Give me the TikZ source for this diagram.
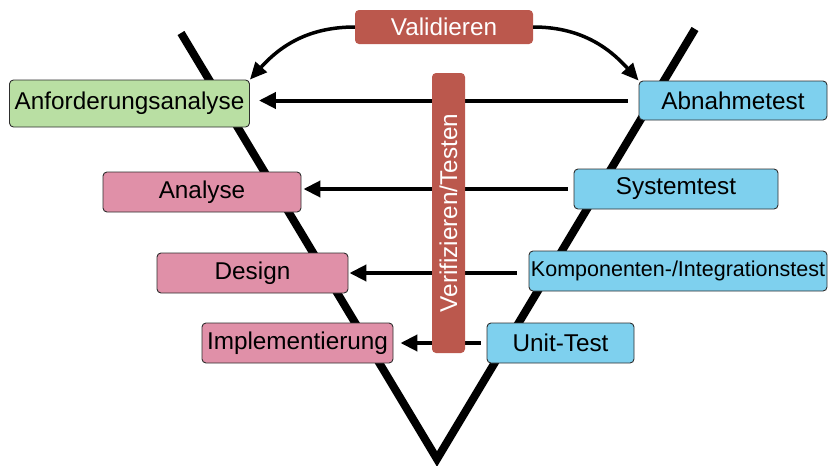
\documentclass[tikz,border=0pt]{standalone}
\usepackage{fontspec}
\setmainfont{Liberation Sans}
\usetikzlibrary{arrows.meta}

\definecolor{phasered}{HTML}{BB584D}
\definecolor{reqgreen}{HTML}{B9DFA3}
\definecolor{devpink}{HTML}{E090A8}
\definecolor{testblue}{HTML}{7ED0EE}
\definecolor{boxline}{HTML}{2E2E2E}

\tikzset{
  box/.style={rectangle, rounded corners=4pt, draw=boxline, line width=0.9pt,
    inner sep=0pt, font=\fontsize{24.3}{28}\selectfont, text=black},
  tag/.style={rectangle, rounded corners=4pt, fill=phasered, inner sep=0pt,
    font=\fontsize{24.3}{28}\selectfont, text=white},
  vline/.style={line width=8pt, line join=miter, black},
  arr/.style={line width=4pt, -{Triangle[length=17pt,width=16pt]}},
  carr/.style={line width=3.5pt, -{Triangle[length=17pt,width=15pt]}},
}

\begin{document}
\begin{tikzpicture}[x=1pt,y=-1pt]
  \useasboundingbox (0,0) rectangle (828,466);

  % the V of the model
  \draw[vline] (181,33) -- (437,459) -- (695,29);

  % development phases (left branch)
  \node[box, fill=reqgreen, minimum width=240pt, minimum height=47pt] (anf) at (129.5,103.5) {Anforderungsanalyse};
  \node[box, fill=devpink, minimum width=198pt, minimum height=40pt] (ana) at (202,192) {Analyse};
  \node[box, fill=devpink, minimum width=191pt, minimum height=40pt] (des) at (252.5,273) {Design};
  \node[box, fill=devpink, minimum width=191pt, minimum height=40pt] (imp) at (297.5,343) {Implementierung};

  % test phases (right branch)
  \node[box, fill=testblue, minimum width=188pt, minimum height=39pt] (abn) at (733,100.5) {Abnahmetest};
  \node[box, fill=testblue, minimum width=204pt, minimum height=40pt] (sys) at (676,189) {Systemtest};
  \node[box, fill=testblue, minimum width=298pt, minimum height=40pt, font=\fontsize{21.5}{25}\selectfont] (kom) at (678,271) {Komponenten-/Integrationstest};
  \node[box, fill=testblue, minimum width=147pt, minimum height=40pt] (uni) at (560.5,343) {Unit-Test};

  % verification arrows from each test level to its phase
  \draw[arr, shorten <=11pt, shorten >=9pt] (abn.west) -- (abn.west -| anf.east);
  \draw[arr, shorten <=6pt, shorten >=2pt] (sys.west) -- (sys.west -| ana.east);
  \draw[arr, shorten <=12pt, shorten >=1pt] (des.east -| kom.west) -- (des.east);
  \draw[arr, shorten <=6pt, shorten >=7pt] (uni.west) -- (imp.east);

  % labels
  \node[tag, minimum width=178pt, minimum height=34pt] (val) at (444,27) {Validieren};
  \node[tag, rotate=90, minimum width=280pt, minimum height=33pt] (ver) at (448.5,213) {Verifizieren/Testen};

  % validation arrows
  \draw[carr] (val.west) to[out=180,in=48] (anf.north east);
  \draw[carr] (val.east) to[out=0,in=132] (abn.north west);
\end{tikzpicture}
\end{document}
